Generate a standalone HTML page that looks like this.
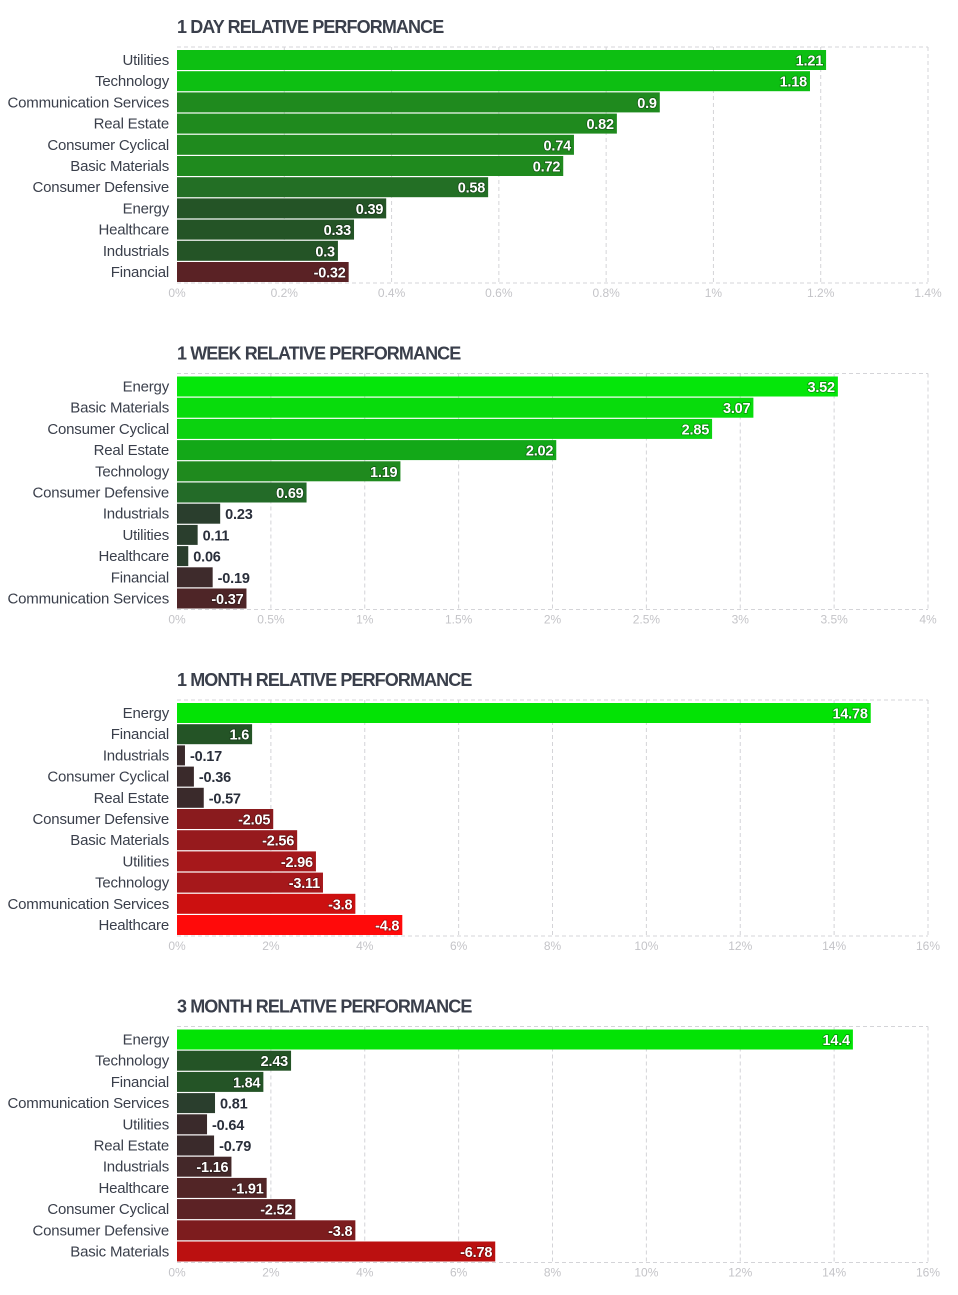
<!DOCTYPE html>
<html><head><meta charset="utf-8"><style>
html,body{margin:0;padding:0;background:#fff;width:958px;height:1295px;overflow:hidden}
svg{display:block;font-family:"Liberation Sans",sans-serif}
</style></head><body>
<svg id="s" width="958" height="1295"></svg>
<script>
const titles=["1 DAY RELATIVE PERFORMANCE","1 WEEK RELATIVE PERFORMANCE","1 MONTH RELATIVE PERFORMANCE","3 MONTH RELATIVE PERFORMANCE"];
const cats1=["Utilities","Technology","Communication Services","Real Estate","Consumer Cyclical","Basic Materials","Consumer Defensive","Energy","Healthcare","Industrials","Financial"];
const vals1=[1.21,1.18,0.9,0.82,0.74,0.72,0.58,0.39,0.33,0.3,-0.32];
const ticks1=["0%","0.2%","0.4%","0.6%","0.8%","1%","1.2%","1.4%"];
const cats2=["Energy","Basic Materials","Consumer Cyclical","Real Estate","Technology","Consumer Defensive","Industrials","Utilities","Healthcare","Financial","Communication Services"];
const vals2=[3.52,3.07,2.85,2.02,1.19,0.69,0.23,0.11,0.06,-0.19,-0.37];
const ticks2=["0%","0.5%","1%","1.5%","2%","2.5%","3%","3.5%","4%"];
const cats3=["Energy","Financial","Industrials","Consumer Cyclical","Real Estate","Consumer Defensive","Basic Materials","Utilities","Technology","Communication Services","Healthcare"];
const vals3=[14.78,1.6,-0.17,-0.36,-0.57,-2.05,-2.56,-2.96,-3.11,-3.8,-4.8];
const ticks3=["0%","2%","4%","6%","8%","10%","12%","14%","16%"];
const cats4=["Energy","Technology","Financial","Communication Services","Utilities","Real Estate","Industrials","Healthcare","Consumer Cyclical","Consumer Defensive","Basic Materials"];
const vals4=[14.4,2.43,1.84,0.81,-0.64,-0.79,-1.16,-1.91,-2.52,-3.8,-6.78];
const ticks4=["0%","2%","4%","6%","8%","10%","12%","14%","16%"];
const colors1=["#0dbf12","#0dbf12","#1f8a1e","#1f8a1e","#1f8a1e","#1f8a1e","#236f25","#245426","#245426","#245426","#5a2225"];
const colors2=["#05e60a","#08dc0c","#0bd20f","#13a818","#1f8a1e","#236b28","#2a3e2d","#2a3e2d","#2a3e2d","#3e2b2c","#4e2527"];
const colors3=["#03e305","#245426","#3a2a2b","#3a2a2b","#3a2a2b","#8a1b1e","#961a1d","#a6181b","#a6181b","#cc1010","#ff0a0a"];
const colors4=["#03e305","#245426","#245426","#2a3e2d","#3a2a2b","#3a2a2b","#442829","#522526","#5c2225","#7d1c1e","#bb1010"];
const charts=[[cats1,vals1,ticks1,colors1,1.4],[cats2,vals2,ticks2,colors2,4],[cats3,vals3,ticks3,colors3,16],[cats4,vals4,ticks4,colors4,16]];
const NS="http://www.w3.org/2000/svg",svg=document.getElementById('s');
function mk(t,a,p,txt){const e=document.createElementNS(NS,t);for(const k in a)e.setAttribute(k,a[k]);if(txt!=null)e.textContent=txt;(p||svg).appendChild(e);return e;}
const X0=177,W=751,STEP=21.2;
charts.forEach((c,k)=>{
  const [cats,vals,ticks,cols,max]=c;
  const top=47+k*326.5;
  const g=mk('g',{});
  
  
  const t=mk('text',{x:X0,y:top-14,'font-size':18,'font-weight':'bold',fill:'#3a3f4b','letter-spacing':'-0.9'},g,titles[k]);
  
  
  const x=v=>X0+Math.abs(v)/max*W;
  const bottom=top+236;
  ticks.forEach((tk,i)=>{
    const tx=X0+i*W/(ticks.length-1);
    if(i>0){const l=mk('line',{x1:tx,x2:tx,y1:top,y2:bottom,stroke:'#d4d4d8','stroke-dasharray':'4,3'},g);
      
      }
    const tl=mk('text',{x:tx,y:bottom+14,'font-size':12,fill:'#c4c4c8','text-anchor':'middle'},g,tk);
    
    
  });
  mk('line',{x1:X0,x2:X0+W,y1:top,y2:top,stroke:'#d4d4d8','stroke-dasharray':'4,3'},g);
  mk('line',{x1:X0,x2:X0+W,y1:bottom,y2:bottom,stroke:'#d4d4d8','stroke-dasharray':'4,3'},g);
  cats.forEach((cat,i)=>{
    const y=top+3+i*STEP, v=vals[i], xe=x(v);
    const r=mk('rect',{x:X0,y:y,width:xe-X0,height:20,fill:cols[i]},g);
    
    
    const cl=mk('text',{x:169,y:y+15,'font-size':15,fill:'#3a3f4b','text-anchor':'end','letter-spacing':'-0.2'},g,cat);
    
    
    const inside=(xe-X0)>45;
    const vl=mk('text',{x:inside?xe-3:xe+5,y:y+15.5,'font-size':14.5,'font-weight':'bold',fill:inside?'#fff':'#2a2f3b','text-anchor':inside?'end':'start','letter-spacing':'-0.2',style:inside?'paint-order:stroke;stroke:rgba(0,0,0,0.35);stroke-width:1.5px':''},g,String(v));
    
    
  });
});
</script>
</body></html>
